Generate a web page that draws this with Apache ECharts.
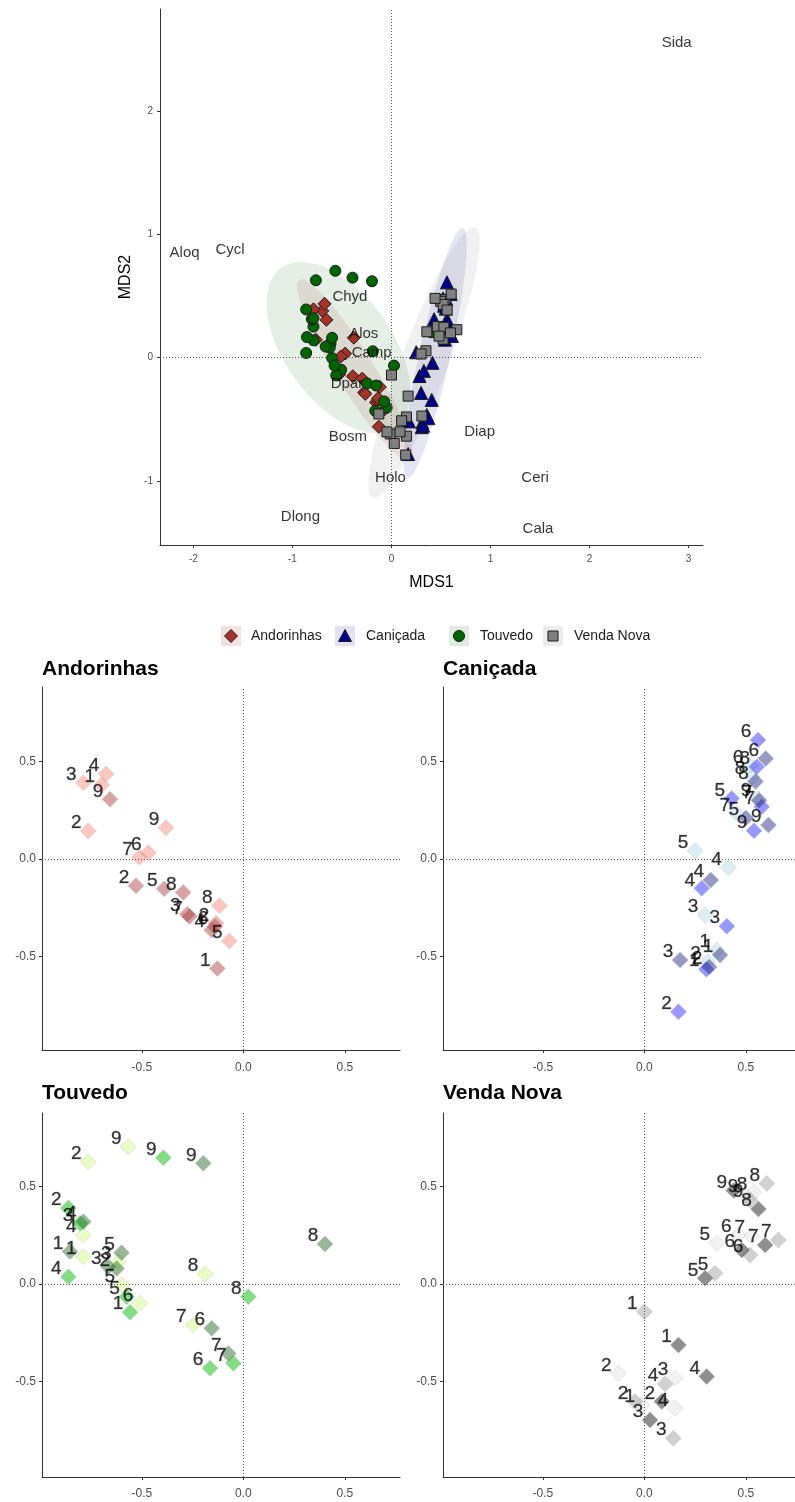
<!DOCTYPE html>
<html>
<head>
<meta charset="utf-8">
<script src="https://cdn.jsdelivr.net/npm/echarts@6/dist/echarts.min.js"></script>
<style>
  html, body { margin: 0; padding: 0; background: #ffffff; }
  #chart { width: 795px; height: 1502px; }
</style>
</head>
<body>
<div id="chart"></div>
<script>
// ---- NMDS site scores, one block per reservoir ----
// campaign: 1 = first, 2 = second, 3 = third sampling campaign; month = sampling month label
const locations = ['Andorinhas', 'Caniçada', 'Touvedo', 'Venda Nova'];

const andorinhasX = [-0.698, -0.764, -0.788, -0.676, -0.069, -0.468, -0.512, -0.118, -0.381,
                     -0.128, -0.529, -0.276, -0.156, -0.390, -0.140, -0.265, -0.296, -0.657,
                     -0.135];
const andorinhasY = [0.379, 0.144, 0.391, 0.436, -0.420, 0.032, 0.009, -0.239, 0.161,
                     -0.561, -0.137, -0.283, -0.364, -0.152, -0.347, -0.295, -0.171, 0.306,
                     -0.330];
const andorinhasMonth = [1, 2, 3, 4, 5, 6, 7, 8, 9,
                         1, 2, 3, 4, 5, 6, 7, 8, 9,
                         2];
const andorinhasCampaign = [1, 1, 1, 1, 1, 1, 1, 1, 1,
                            3, 3, 3, 3, 3, 3, 3, 3, 3,
                            2];

const canicadaX = [0.357, 0.311, 0.299, 0.414, 0.250, 0.520, 0.455, 0.530, 0.560,
                   0.305, 0.168, 0.406, 0.283, 0.430, 0.560, 0.578, 0.554, 0.540,
                   0.373, 0.319, 0.176, 0.327, 0.500, 0.598, 0.565, 0.548, 0.611];
const canicadaY = [-0.467, -0.527, -0.287, -0.043, 0.043, 0.480, 0.234, 0.420, 0.310,
                   -0.565, -0.783, -0.344, -0.150, 0.311, 0.610, 0.268, 0.473, 0.145,
                   -0.492, -0.553, -0.518, -0.108, 0.210, 0.515, 0.300, 0.397, 0.175];
const canicadaMonth = [1, 2, 3, 4, 5, 6, 7, 8, 9,
                       1, 2, 3, 4, 5, 6, 7, 8, 9,
                       1, 2, 3, 4, 5, 6, 7, 8, 9];
const canicadaCampaign = [1, 1, 1, 1, 1, 1, 1, 1, 1,
                          2, 2, 2, 2, 2, 2, 2, 2, 2,
                          3, 3, 3, 3, 3, 3, 3, 3, 3];

const touvedoX = [-0.788, -0.764, -0.616, -0.788, -0.599, -0.509, -0.246, -0.189, -0.567,
                  -0.558, -0.862, -0.804, -0.862, -0.575, -0.164, -0.049, 0.025, -0.394,
                  -0.854, -0.624, -0.665, -0.788, -0.600, -0.156, -0.074, 0.402, -0.197];
const touvedoY = [0.140, 0.627, 0.114, 0.251, -0.005, -0.099, -0.210, 0.051, 0.704,
                  -0.145, 0.390, 0.311, 0.037, -0.065, -0.432, -0.407, -0.065, 0.648,
                  0.166, 0.080, 0.089, 0.319, 0.160, -0.227, -0.356, 0.205, 0.619];
const touvedoMonth = [1, 2, 3, 4, 5, 6, 7, 8, 9,
                      1, 2, 3, 4, 5, 6, 7, 8, 9,
                      1, 2, 3, 4, 5, 6, 7, 8, 9];
const touvedoCampaign = [1, 1, 1, 1, 1, 1, 1, 1, 1,
                         2, 2, 2, 2, 2, 2, 2, 2, 2,
                         3, 3, 3, 3, 3, 3, 3, 3, 3];

const vendaNovaX = [-0.013, -0.128, 0.151, 0.151, 0.357, 0.463, 0.529, 0.540, 0.496,
                    0.000, -0.046, 0.143, 0.102, 0.348, 0.521, 0.660, 0.603, 0.521,
                    0.168, 0.086, 0.028, 0.307, 0.299, 0.480, 0.595, 0.562, 0.440];
const vendaNovaY = [-0.620, -0.458, -0.482, -0.638, 0.209, 0.251, 0.246, 0.470, 0.456,
                    -0.142, -0.603, -0.791, -0.513, 0.055, 0.149, 0.226, 0.515, 0.431,
                    -0.313, -0.603, -0.697, -0.475, 0.029, 0.174, 0.200, 0.385, 0.480];
const vendaNovaMonth = [1, 2, 3, 4, 5, 6, 7, 8, 9,
                        1, 2, 3, 4, 5, 6, 7, 8, 9,
                        1, 2, 3, 4, 5, 6, 7, 8, 9];
const vendaNovaCampaign = [1, 1, 1, 1, 1, 1, 1, 1, 1,
                           2, 2, 2, 2, 2, 2, 2, 2, 2,
                           3, 3, 3, 3, 3, 3, 3, 3, 3];

// ---- species scores ----
const speciesNames = ['Sida', 'Aloq', 'Cycl', 'Chyd', 'Alos', 'Camp', 'Dpar', 'Bosm', 'Diap', 'Holo', 'Ceri', 'Dlong', 'Cala'];
const speciesX = [2.88, -2.09, -1.63, -0.42, -0.28, -0.20, -0.45, -0.44, 0.89, -0.01, 1.45, -0.92, 1.48];
const speciesY = [2.55, 0.85, 0.87, 0.49, 0.196, 0.034, -0.215, -0.64, -0.60, -0.98, -0.98, -1.29, -1.39];

// ---- axis tick positions ----
const mdsXTicks = [-2, -1, 0, 1, 2, 3];
const mdsYTicks = [-1, 0, 1, 2];
const panelTicks = [-0.5, 0, 0.5];

// ---- styling ----
const FONT = 'Liberation Sans, Arial, Helvetica, sans-serif';
const siteStyle = [
  { symbol: 'diamond',  size: 13, fill: '#a6332a', ellipse: 'rgba(165,42,42,0.11)', key: '#f3e2e1' },
  { symbol: 'triangle', size: 13, fill: '#00008b', ellipse: 'rgba(0,0,139,0.10)',   key: '#e1e1f0' },
  { symbol: 'circle',   size: 11, fill: '#006400', ellipse: 'rgba(0,100,0,0.10)',   key: '#e0ece0' },
  { symbol: 'rect',     size: 10, fill: '#808080', ellipse: 'rgba(128,128,128,0.11)', key: '#ececec' }
];
const campaignColors = [
  ['rgba(250,128,114,0.55)', 'rgba(205,80,80,0.55)',  'rgba(165,50,50,0.55)'],
  ['rgba(173,216,230,0.55)', 'rgba(20,20,250,0.55)',  'rgba(35,35,130,0.58)'],
  ['rgba(200,250,110,0.5)',  'rgba(20,190,20,0.65)',  'rgba(20,90,20,0.55)'],
  ['rgba(228,228,228,0.6)',  'rgba(150,150,150,0.55)', 'rgba(60,60,60,0.72)']
];

const siteData = [
  { x: andorinhasX, y: andorinhasY, m: andorinhasMonth, c: andorinhasCampaign },
  { x: canicadaX,   y: canicadaY,   m: canicadaMonth,   c: canicadaCampaign },
  { x: touvedoX,    y: touvedoY,    m: touvedoMonth,    c: touvedoCampaign },
  { x: vendaNovaX,  y: vendaNovaY,  m: vendaNovaMonth,  c: vendaNovaCampaign }
];

// robust multivariate-t location/scatter (nu = 5), as in MASS::cov.trob
function covTrob(xs, ys) {
  const n = xs.length, p = 2, nu = 5;
  let w = new Array(n).fill(1);
  let lx = xs.reduce((a, b) => a + b, 0) / n;
  let ly = ys.reduce((a, b) => a + b, 0) / n;
  let X = [], Y = [];
  for (let iter = 0; iter < 25; iter++) {
    const w0 = w.slice();
    X = xs.map(v => v - lx);
    Y = ys.map(v => v - ly);
    const sw = w.reduce((a, b) => a + b, 0);
    let sxx = 0, syy = 0, sxy = 0;
    for (let i = 0; i < n; i++) {
      sxx += w[i] * X[i] * X[i]; syy += w[i] * Y[i] * Y[i]; sxy += w[i] * X[i] * Y[i];
    }
    sxx /= sw; syy /= sw; sxy /= sw;
    const det = sxx * syy - sxy * sxy;
    w = X.map((dx, i) => {
      const dy = Y[i];
      const q = (syy * dx * dx - 2 * sxy * dx * dy + sxx * dy * dy) / det;
      return (nu + p) / (nu + q);
    });
    const sw2 = w.reduce((a, b) => a + b, 0);
    lx = xs.reduce((a, v, i) => a + w[i] * v, 0) / sw2;
    ly = ys.reduce((a, v, i) => a + w[i] * v, 0) / sw2;
    if (w.every((v, i) => Math.abs(v - w0[i]) < 0.01)) break;
  }
  let cxx = 0, cyy = 0, cxy = 0;
  for (let i = 0; i < n; i++) {
    cxx += w[i] * X[i] * X[i]; cyy += w[i] * Y[i] * Y[i]; cxy += w[i] * X[i] * Y[i];
  }
  return { cx: lx, cy: ly, sxx: cxx / n, syy: cyy / n, sxy: cxy / n };
}

// 95% ellipse: radius from the F(2, n-1) quantile
function confidenceEllipse(xs, ys) {
  const n = xs.length;
  const d2 = n - 1;
  const qf = (d2 / 2) * (Math.pow(0.05, -2 / d2) - 1);
  const r = Math.sqrt(2 * qf);
  const s = covTrob(xs, ys);
  const a = Math.sqrt(s.sxx), b = s.sxy / a, c = Math.sqrt(Math.max(s.syy - b * b, 0));
  const pts = [];
  for (let k = 0; k <= 100; k++) {
    const t = 2 * Math.PI * k / 100;
    const u = Math.cos(t), v = Math.sin(t);
    pts.push([s.cx + r * a * u, s.cy + r * (b * u + c * v)]);
  }
  return pts;
}

function axisCommon(ticks, fontSize, margin, fmt) {
  return {
    type: 'value',
    splitLine: { show: false },
    axisLine: { show: true, onZero: false, lineStyle: { color: '#333333', width: 1 } },
    axisTick: { show: true, length: 3, inside: false, customValues: ticks, lineStyle: { color: '#333333', width: 1 } },
    axisLabel: { customValues: ticks, color: '#4d4d4d', fontSize: fontSize, fontFamily: FONT, margin: margin,
                 formatter: fmt }
  };
}

const dotted = { type: [1, 2], color: '#555555', width: 1 };
function zeroLines(gridIdx) {
  return {
    type: 'scatter', xAxisIndex: gridIdx, yAxisIndex: gridIdx, data: [], z: 2, silent: true,
    markLine: { silent: true, symbol: 'none', animation: false, label: { show: false },
                lineStyle: dotted, data: [{ xAxis: 0 }, { yAxis: 0 }] }
  };
}

const grids = [
  { left: 160, top: 9, width: 543, height: 536 },
  { left: 42, top: 687, width: 358, height: 363 },
  { left: 443, top: 687, width: 352, height: 363 },
  { left: 42, top: 1113, width: 358, height: 364 },
  { left: 443, top: 1113, width: 352, height: 364 }
];

const intFmt = v => String(Math.round(v));
const decFmt = v => v.toFixed(1);

const xAxes = [
  Object.assign(axisCommon(mdsXTicks, 10, 9, intFmt), {
    gridIndex: 0, min: -2.338, max: 3.146,
    name: 'MDS1', nameLocation: 'middle', nameGap: 30,
    nameTextStyle: { fontSize: 16, color: '#000', fontFamily: FONT }
  }),
  Object.assign(axisCommon(panelTicks, 12, 12, decFmt), { gridIndex: 1, min: -0.992, max: 0.772 }),
  Object.assign(axisCommon(panelTicks, 12, 12, decFmt), { gridIndex: 2, min: -0.992, max: 0.742 }),
  Object.assign(axisCommon(panelTicks, 12, 11, decFmt), { gridIndex: 3, min: -0.992, max: 0.772 }),
  Object.assign(axisCommon(panelTicks, 12, 11, decFmt), { gridIndex: 4, min: -0.992, max: 0.742 })
];
const yAxes = [
  Object.assign(axisCommon(mdsYTicks, 10, 7, intFmt), {
    gridIndex: 0, min: -1.521, max: 2.828,
    name: 'MDS2', nameLocation: 'middle', nameGap: 24, nameRotate: 90,
    nameTextStyle: { fontSize: 16, color: '#000', fontFamily: FONT }
  }),
  Object.assign(axisCommon(panelTicks, 12, 6, decFmt), { gridIndex: 1, min: -0.979, max: 0.882 }),
  Object.assign(axisCommon(panelTicks, 12, 6, decFmt), { gridIndex: 2, min: -0.979, max: 0.882 }),
  Object.assign(axisCommon(panelTicks, 12, 6, decFmt), { gridIndex: 3, min: -0.990, max: 0.877 }),
  Object.assign(axisCommon(panelTicks, 12, 6, decFmt), { gridIndex: 4, min: -0.990, max: 0.877 })
];

const series = [];

// ordination: ellipses
siteData.forEach((d, i) => {
  const poly = confidenceEllipse(d.x, d.y);
  series.push({
    type: 'custom', xAxisIndex: 0, yAxisIndex: 0, z: 1, silent: true, clip: true,
    data: [[0, 0]],
    renderItem: function (params, api) {
      return { type: 'polygon', shape: { points: poly.map(p => api.coord(p)) },
               style: { fill: siteStyle[i].ellipse, stroke: null } };
    }
  });
});
series.push(zeroLines(0));

// ordination: site points
siteData.forEach((d, i) => {
  series.push({
    type: 'scatter', name: locations[i], xAxisIndex: 0, yAxisIndex: 0, z: 3,
    symbol: siteStyle[i].symbol, symbolSize: siteStyle[i].size,
    itemStyle: { color: siteStyle[i].fill, borderColor: '#1a1a1a', borderWidth: 1, opacity: 1 },
    data: d.x.map((x, k) => [x, d.y[k]])
  });
});

// ordination: species names
series.push({
  type: 'scatter', xAxisIndex: 0, yAxisIndex: 0, z: 4, silent: true,
  symbolSize: 1, itemStyle: { color: 'rgba(0,0,0,0)' },
  data: speciesNames.map((n, k) => ({ name: n, value: [speciesX[k], speciesY[k]] })),
  label: { show: true, position: 'inside', formatter: p => p.name,
           fontSize: 15, color: '#000', fontFamily: FONT }
});

// per-reservoir panels
siteData.forEach((d, i) => {
  const g = i + 1;
  series.push(zeroLines(g));
  series.push({
    type: 'scatter', xAxisIndex: g, yAxisIndex: g, z: 3,
    symbol: 'diamond', symbolSize: 16,
    data: d.x.map((x, k) => ({
      value: [x, d.y[k], d.m[k]],
      itemStyle: { color: campaignColors[i][d.c[k] - 1], borderColor: 'rgba(170,170,170,0.35)', borderWidth: 1 }
    }))
  });
  series.push({
    type: 'scatter', xAxisIndex: g, yAxisIndex: g, z: 5, silent: true,
    symbolSize: 1, itemStyle: { color: 'rgba(0,0,0,0)' },
    data: d.x.map((x, k) => [x, d.y[k], d.m[k]]),
    label: { show: true, position: 'inside', offset: [-12, -8],
             formatter: p => String(p.value[2]), fontSize: 19, color: '#000', fontFamily: FONT,
             textBorderColor: 'rgba(0,0,0,0.55)', textBorderWidth: 0.5 }
  });
});

// legend keys for the ordination
const legendItems = [
  { cx: 231, tx: 251 },
  { cx: 345, tx: 366 },
  { cx: 459, tx: 480 },
  { cx: 553, tx: 574 }
];
const legendY = 636;
const legendGraphics = [];
legendItems.forEach((it, i) => {
  legendGraphics.push({ type: 'rect', shape: { x: it.cx - 10, y: legendY - 10, width: 20, height: 20 },
                        style: { fill: siteStyle[i].key } });
  const s = siteStyle[i];
  const st = { fill: s.fill, stroke: '#1a1a1a', lineWidth: 1 };
  let shp;
  if (s.symbol === 'diamond') {
    shp = { type: 'polygon', shape: { points: [[it.cx, legendY - 6.5], [it.cx + 6.5, legendY], [it.cx, legendY + 6.5], [it.cx - 6.5, legendY]] }, style: st };
  } else if (s.symbol === 'triangle') {
    shp = { type: 'polygon', shape: { points: [[it.cx, legendY - 6.5], [it.cx + 6.5, legendY + 5.5], [it.cx - 6.5, legendY + 5.5]] }, style: st };
  } else if (s.symbol === 'circle') {
    shp = { type: 'circle', shape: { cx: it.cx, cy: legendY, r: 5.5 }, style: st };
  } else {
    shp = { type: 'rect', shape: { x: it.cx - 5, y: legendY - 5, width: 10, height: 10 }, style: st };
  }
  legendGraphics.push(shp);
  legendGraphics.push({ type: 'text', x: it.tx, y: legendY,
                        style: { text: locations[i], fill: '#1a1a1a', font: '14px ' + FONT, verticalAlign: 'middle', align: 'left' } });
});

const titles = [
  { text: 'Andorinhas', left: 42, top: 659 },
  { text: 'Caniçada',   left: 443, top: 659 },
  { text: 'Touvedo',    left: 42, top: 1083 },
  { text: 'Venda Nova', left: 443, top: 1083 }
].map(t => Object.assign(t, { padding: 0, textStyle: { fontSize: 21, fontWeight: 'bold', color: '#000', fontFamily: FONT } }));

const chart = echarts.init(document.getElementById('chart'), null, { renderer: 'canvas' });
chart.setOption({
  animation: false,
  backgroundColor: '#ffffff',
  title: titles,
  grid: grids,
  xAxis: xAxes,
  yAxis: yAxes,
  series: series,
  graphic: legendGraphics
});
</script>
</body>
</html>
